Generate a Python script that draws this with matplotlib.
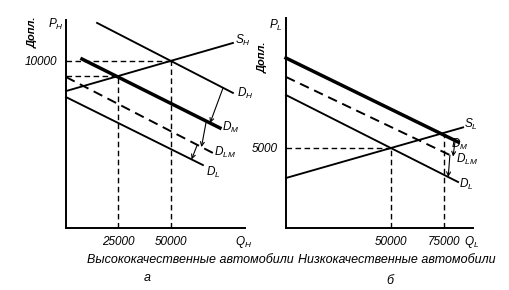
import matplotlib
matplotlib.use("Agg")
import matplotlib.pyplot as plt

plt.rcParams['font.family'] = ['Liberation Sans', 'DejaVu Sans']
plt.rcParams['font.style'] = 'italic'
plt.rcParams['mathtext.fontset'] = 'custom'
plt.rcParams['mathtext.it'] = 'Liberation Sans:italic'
plt.rcParams['mathtext.rm'] = 'Liberation Sans:italic'

# left panel: high quality cars (Q, $)
sh_q = [0, 79500]
sh_p = [8200, 11080]
dh_q = [14800, 79500]
dh_p = [12280, 8090]
dm_q = [7600, 73300]
dm_p = [10120, 5990]
dlm_q = [0, 70000]
dlm_p = [9040, 4490]
dl_q = [0, 65200]
dl_p = [7840, 3770]
h_eq_q = [25000, 50000]
h_eq_p = [9100, 10000]
h_xticks = [25000, 50000]
h_yticks = [10000]

# right panel: low quality cars
sl_q = [0, 84300]
sl_p = [3125, 6290]
dm2_q = [0, 81900]
dm2_p = [10625, 5375]
dlm2_q = [0, 78000]
dlm2_p = [9440, 4560]
dl2_q = [0, 81900]
dl2_p = [8310, 2875]
l_eq_q = [50000, 75000]
l_eq_p = [5000, 5820]
l_xticks = [50000, 75000]
l_yticks = [5000]

W, H = 510, 290
fig = plt.figure(figsize=(W / 100, H / 100), dpi=100)


def frac(x, y):
    return x / W, 1 - y / H


def on_line(qs, ps, q):
    return ps[0] + (ps[1] - ps[0]) * (q - qs[0]) / (qs[1] - qs[0])


def setup(ax, xmax, ymax, xt, yt):
    ax.set_xlim(0, xmax)
    ax.set_ylim(0, ymax)
    for s in ['top', 'right']:
        ax.spines[s].set_visible(False)
    for s in ['left', 'bottom']:
        ax.spines[s].set_linewidth(1.4)
    ax.set_xticks(xt)
    ax.set_xticklabels([str(v) for v in xt], fontsize=8.5)
    ax.set_yticks(yt)
    ax.set_yticklabels([str(v) for v in yt], fontsize=8.5)
    ax.tick_params(length=0, pad=6)
    ax.patch.set_alpha(0)


def arrow(ax, qs1, ps1, q1, qs2, ps2, q2):
    ax.annotate('', xy=(q2, on_line(qs2, ps2, q2)),
                xytext=(q1, on_line(qs1, ps1, q1)),
                arrowprops=dict(arrowstyle='->', lw=0.8, color='black',
                                shrinkA=0, shrinkB=0, mutation_scale=7),
                annotation_clip=False)


lw = 1.35
dash = dict(color='black', lw=1.0, ls=(0, (4, 2.5)))

# ---- left
ax1 = fig.add_axes([66 / W, 62 / H, 179 / W, 208 / H])
setup(ax1, 85240, 12455, h_xticks, h_yticks)
ax1.plot(sh_q, sh_p, color='black', lw=lw, clip_on=False)
ax1.plot(dh_q, dh_p, color='black', lw=lw, clip_on=False)
ax1.plot(dm_q, dm_p, color='black', lw=2.5, clip_on=False)
ax1.plot(dlm_q, dlm_p, color='black', lw=1.4, ls=(0, (5, 3)), clip_on=False)
ax1.plot(dl_q, dl_p, color='black', lw=lw, clip_on=False)
for q, p in zip(h_eq_q, h_eq_p):
    ax1.plot([q, q], [0, p], **dash)
    ax1.plot([0, q], [p, p], **dash)
arrow(ax1, dh_q, dh_p, 74800, dm_q, dm_p, 68600)
arrow(ax1, dm_q, dm_p, 66800, dlm_q, dlm_p, 64500)
arrow(ax1, dlm_q, dlm_p, 62500, dl_q, dl_p, 59800)
fs = 8.5
ax1.text(80500, 11250, '$S_H$', fontsize=fs, va='center')
ax1.text(81500, 8050, '$D_H$', fontsize=fs, va='center')
ax1.text(74300, 6050, '$D_M$', fontsize=fs, va='center')
ax1.text(70500, 4550, '$D_{LM}$', fontsize=fs, va='center')
ax1.text(66500, 3300, '$D_L$', fontsize=fs, va='center')

# ---- right
ax2 = fig.add_axes([286 / W, 62 / H, 187 / W, 210 / H])
setup(ax2, 89000, 13125, l_xticks, l_yticks)
ax2.plot(sl_q, sl_p, color='black', lw=lw, clip_on=False)
ax2.plot(dm2_q, dm2_p, color='black', lw=2.5, clip_on=False)
ax2.plot(dlm2_q, dlm2_p, color='black', lw=1.4, ls=(0, (5, 3)), clip_on=False)
ax2.plot(dl2_q, dl2_p, color='black', lw=lw, clip_on=False)
for q, p in zip(l_eq_q, l_eq_p):
    ax2.plot([q, q], [0, p], **dash)
ax2.plot([0, l_eq_q[0]], [l_eq_p[0], l_eq_p[0]], **dash)
arrow(ax2, dm2_q, dm2_p, 80500, dlm2_q, dlm2_p, 79500)
arrow(ax2, dlm2_q, dlm2_p, 78000, dl2_q, dl2_p, 77200)
ax2.text(84500, 6500, '$S_L$', fontsize=fs, va='center')
ax2.text(78500, 5250, '$D_M$', fontsize=fs, va='center')
ax2.text(81000, 4300, '$D_{LM}$', fontsize=fs, va='center')
ax2.text(82500, 2700, '$D_L$', fontsize=fs, va='center')

# axis titles
for x, y, s in [(33, 32, 'Допл.'), (263, 57, 'Допл.')]:
    fig.text(*frac(x, y), s, rotation=90, fontsize=8, ha='center', va='center',
             fontweight='bold')
fig.text(*frac(56, 24), '$P_H$', fontsize=fs, ha='center', va='center')
fig.text(*frac(276, 25), '$P_L$', fontsize=fs, ha='center', va='center')
fig.text(*frac(244, 242), '$Q_H$', fontsize=fs, ha='center', va='center')
fig.text(*frac(472, 242), '$Q_L$', fontsize=fs, ha='center', va='center')

fig.text(*frac(190, 260), 'Высококачественные автомобили', fontsize=9,
         ha='center', va='center')
fig.text(*frac(397, 260), 'Низкокачественные автомобили', fontsize=9,
         ha='center', va='center')
fig.text(*frac(147, 278), 'а', fontsize=9, ha='center', va='center')
fig.text(*frac(390, 281), 'б', fontsize=9, ha='center', va='center')

fig.savefig('out.png', dpi=100)
